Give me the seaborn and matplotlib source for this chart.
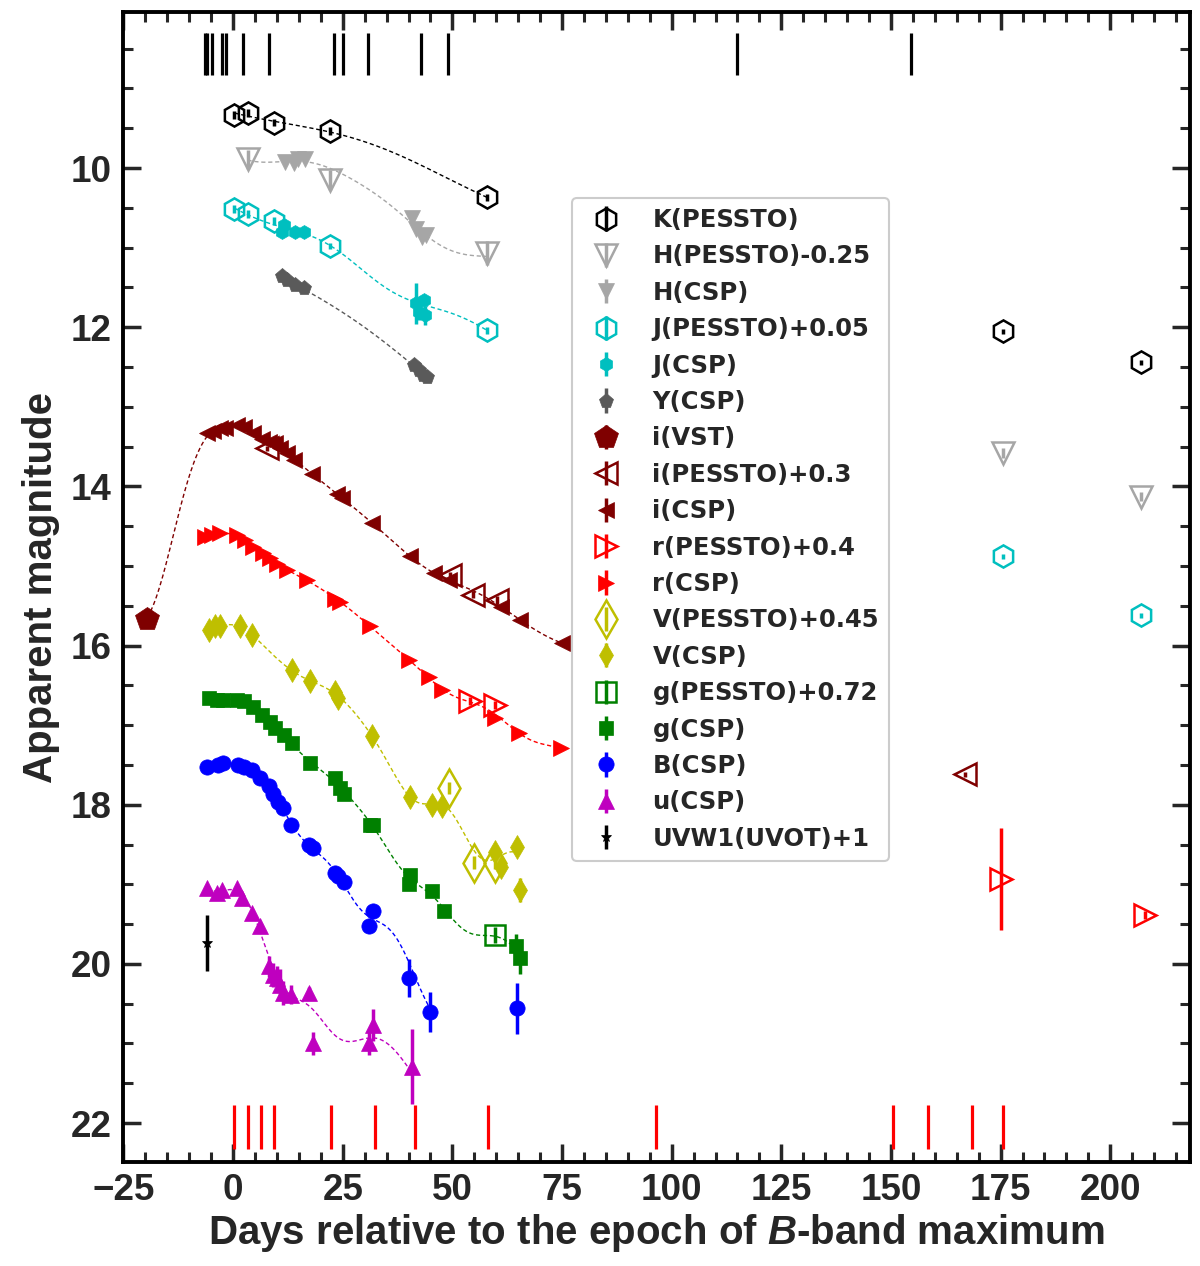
import numpy as np
import pandas as pd
import matplotlib
matplotlib.use("Agg")
import matplotlib.pyplot as plt
import seaborn as sns
from matplotlib.ticker import MultipleLocator

# ---------------- data ----------------
K_pes_t = [0.3, 3.3, 9.3, 22.2, 57.9, 175.5, 207.0]
K_pes_m = [9.33, 9.31, 9.43, 9.54, 10.37, 12.05, 12.44]
K_pes_e = [0.05, 0.05, 0.04, 0.05, 0.04, 0.03, 0.03]

H_pes_t = [3.3, 22.2, 57.9, 175.5, 207.0]
H_pes_m = [9.89, 10.15, 11.07, 13.58, 14.13]
H_pes_e = [0.12, 0.12, 0.15, 0.06, 0.06]
H_csp_t = [11.9, 13.8, 14.9, 16.4, 40.9, 41.8, 43.0, 44.1]
H_csp_m = [9.93, 9.94, 9.89, 9.89, 10.63, 10.76, 10.87, 10.84]
H_csp_e = [0.03, 0.03, 0.03, 0.03, 0.05, 0.05, 0.05, 0.05]

J_pes_t = [0.3, 3.3, 9.3, 22.2, 57.9, 175.5, 207.0]
J_pes_m = [10.51, 10.58, 10.67, 10.98, 12.04, 14.88, 15.62]
J_pes_e = [0.05, 0.05, 0.05, 0.04, 0.04, 0.03, 0.03]
J_csp_t = [11.1, 11.5, 14.2, 16.1, 41.6, 42.3, 43.6, 43.8]
J_csp_m = [10.80, 10.72, 10.80, 10.80, 11.70, 11.81, 11.66, 11.85]
J_csp_e = [0.03, 0.03, 0.03, 0.03, 0.26, 0.10, 0.05, 0.12]

Y_csp_t = [11.1, 12.3, 14.2, 16.1, 41.2, 42.3, 43.4, 44.2]
Y_csp_m = [11.36, 11.41, 11.47, 11.51, 12.47, 12.54, 12.60, 12.62]
Y_csp_e = [0.03, 0.03, 0.03, 0.03, 0.04, 0.04, 0.04, 0.04]

i_vst_t = [-19.6]
i_vst_m = [15.67]
i_vst_e = [0.03]
i_pes_t = [7.7, 49.4, 54.7, 60.1, 167.0]
i_pes_m = [13.52, 15.11, 15.36, 15.43, 17.62]
i_pes_e = [0.03, 0.03, 0.04, 0.05, 0.03]
i_csp_t = [-6.0, -4.5, -3.0, -1.8, 0.8, 2.4, 4.6, 6.5, 8.1, 9.6, 10.7, 12.3, 13.8,
           18.0, 23.7, 24.8, 31.7, 40.4, 45.7, 49.2, 61.0, 65.5, 75.0]
i_csp_m = [13.33, 13.31, 13.27, 13.27, 13.23, 13.25, 13.33, 13.40, 13.44, 13.46, 13.52,
           13.58, 13.67, 13.84, 14.09, 14.15, 14.46, 14.88, 15.09, 15.18, 15.51, 15.68, 15.97]

r_pes_t = [54.1, 59.8, 175.2, 208.0]
r_pes_m = [16.70, 16.75, 18.93, 19.39]
r_pes_e = [0.05, 0.05, 0.64, 0.05]
r_csp_t = [-6.4, -4.9, -3.0, 0.8, 2.7, 4.6, 6.9, 8.4, 10.0, 12.3, 16.8, 23.3, 24.4,
           31.3, 40.0, 44.6, 47.6, 59.8, 65.1, 74.7]
r_csp_m = [14.63, 14.61, 14.59, 14.61, 14.67, 14.76, 14.84, 14.90, 14.97, 15.05, 15.18,
           15.41, 15.45, 15.76, 16.18, 16.39, 16.56, 16.91, 17.10, 17.29]

V_pes_t = [49.2, 54.9, 59.8]
V_pes_m = [17.79, 18.73, 18.73]
V_pes_e = [0.08, 0.08, 0.08]
V_csp_t = [-5.6, -4.1, -3.0, 1.6, 4.3, 13.4, 17.6, 23.3, 24.0, 31.7, 40.4, 45.4, 47.6,
           59.8, 61.0, 64.8, 65.5]
V_csp_m = [15.80, 15.76, 15.76, 15.76, 15.87, 16.31, 16.45, 16.58, 16.66, 17.14, 17.90,
           18.00, 18.02, 18.59, 18.78, 18.53, 19.07]
V_csp_e = [0.02] * 13 + [0.05, 0.1, 0.05, 0.15]

g_pes_t = [59.8]
g_pes_m = [19.64]
g_pes_e = [0.1]
g_csp_t = [-5.6, -3.7, -2.2, 0.8, 2.4, 4.6, 6.5, 8.4, 9.6, 11.5, 13.4, 17.6, 23.3,
           24.4, 25.2, 31.3, 32.0, 40.0, 40.4, 45.4, 48.0, 64.4, 65.5]
g_csp_m = [16.66, 16.68, 16.68, 16.68, 16.70, 16.77, 16.87, 16.96, 17.04, 17.12, 17.23,
           17.48, 17.67, 17.79, 17.86, 18.25, 18.25, 18.99, 18.88, 19.09, 19.34, 19.78, 19.93]
g_csp_e = [0.02] * 17 + [0.05, 0.05, 0.05, 0.05, 0.15, 0.2]

B_csp_t = [-5.9, -3.4, -2.2, 1.2, 2.4, 4.3, 6.2, 8.1, 9.2, 10.3, 11.3, 13.2, 17.2,
           18.2, 23.3, 24.0, 25.2, 31.1, 32.0, 40.0, 45.0, 64.8]
B_csp_m = [17.52, 17.50, 17.48, 17.50, 17.52, 17.56, 17.67, 17.77, 17.86, 17.96, 18.04,
           18.25, 18.51, 18.55, 18.86, 18.90, 18.97, 19.52, 19.34, 20.18, 20.60, 20.56]
B_csp_e = [0.02] * 19 + [0.24, 0.25, 0.32]

u_csp_t = [-5.9, -3.7, -2.6, 0.8, 2.0, 4.3, 6.2, 8.1, 9.2, 10.0, 10.7, 11.3, 13.2,
           17.2, 18.2, 31.1, 32.0, 40.9]
u_csp_m = [19.05, 19.11, 19.07, 19.05, 19.17, 19.36, 19.53, 20.03, 20.14, 20.18, 20.26,
           20.37, 20.39, 20.37, 21.00, 21.00, 20.77, 21.29]
u_csp_e = [0.03, 0.03, 0.03, 0.03, 0.04, 0.05, 0.05, 0.13, 0.15, 0.15, 0.2, 0.15, 0.12,
           0.08, 0.15, 0.15, 0.2, 0.47]

uvw_t = [-5.9]
uvw_m = [19.74]
uvw_e = [0.35]

nir_epochs = [-6.4, -5.9, -4.7, -2.6, -1.7, 2.2, 8.3, 23.1, 25.0, 30.8, 42.8, 48.9, 115.0, 154.5]
spec_epochs = [0.3, 3.4, 6.3, 9.3, 22.3, 32.3, 41.4, 58.2, 96.5, 150.5, 158.5, 168.5, 175.5]

# ---------------- style ----------------
sns.set_theme(style="ticks")
plt.rcParams["font.family"] = ["Liberation Sans", "DejaVu Sans"]
plt.rcParams["font.weight"] = "bold"
plt.rcParams["mathtext.fontset"] = "custom"
plt.rcParams["mathtext.it"] = "Liberation Sans:italic:bold"
plt.rcParams["mathtext.rm"] = "Liberation Sans:bold"

C_K = "black"
C_H = "#a6a6a6"
C_J = "#00bfbf"
C_Y = "#5a5a5a"
C_i = "#7f0000"
C_r = "#ff0000"
C_V = "#bfbf00"
C_g = "#008000"
C_B = "#0000ff"
C_u = "#bf00bf"

fig = plt.figure(figsize=(12, 12.66), dpi=100)
ax = fig.add_axes([0.1025, 0.0821, 0.8892, 0.9084])


def gp_curve(ts, ms, es, ls, tmax, amp=0.5, jitter=0.03, n=400):
    t = np.asarray(ts, float)
    m = np.asarray(ms, float)
    e = np.asarray(es, float)
    sel = t < tmax
    t, m, e = t[sel], m[sel], e[sel]
    p = np.polyfit(t, m, 1)
    K = amp ** 2 * np.exp(-0.5 * (t[:, None] - t[None, :]) ** 2 / ls ** 2)
    K += np.diag(e ** 2 + jitter ** 2)
    alpha = np.linalg.solve(K, m - np.polyval(p, t))
    tg = np.linspace(t.min(), t.max(), n)
    Ks = amp ** 2 * np.exp(-0.5 * (tg[:, None] - t[None, :]) ** 2 / ls ** 2)
    return pd.DataFrame({"t": tg, "m": np.polyval(p, tg) + Ks @ alpha})


def curve(color, ls, tmax, *series):
    ts, ms, es = [], [], []
    for t, m, e in series:
        ts += list(t)
        ms += list(m)
        es += list(e) if np.ndim(e) else [e] * len(t)
    df = gp_curve(ts, ms, es, ls, tmax)
    sns.lineplot(data=df, x="t", y="m", color=color, lw=1.0, ls=(0, (3, 2)),
                 sort=False, estimator=None, ax=ax, legend=False, zorder=2)


curve(C_K, 22, 100, (K_pes_t, K_pes_m, K_pes_e))
curve(C_H, 12, 100, (H_pes_t, H_pes_m, H_pes_e), (H_csp_t, H_csp_m, H_csp_e))
curve(C_J, 12, 100, (J_pes_t, J_pes_m, J_pes_e), (J_csp_t, J_csp_m, J_csp_e))
curve(C_Y, 20, 100, (Y_csp_t, Y_csp_m, Y_csp_e))
curve(C_i, 9, 100, (i_vst_t, i_vst_m, i_vst_e), (i_csp_t, i_csp_m, 0.02))
curve(C_r, 8, 100, (r_csp_t, r_csp_m, 0.02), (r_pes_t, r_pes_m, r_pes_e))
curve(C_V, 7, 100, (V_csp_t, V_csp_m, V_csp_e), (V_pes_t, V_pes_m, V_pes_e))
curve(C_g, 7, 100, (g_csp_t, g_csp_m, g_csp_e), (g_pes_t, g_pes_m, g_pes_e))
curve(C_B, 7, 50, (B_csp_t, B_csp_m, B_csp_e))
curve(C_u, 6, 100, (u_csp_t, u_csp_m, u_csp_e))

handles = []


def pts(t, m, e, marker, color, ms, label, open_=False, mew=1.8, elw=2.5):
    kw = dict(fmt=marker, color=color, ms=ms, ecolor=color, elinewidth=elw,
              capsize=0, label=label, zorder=3)
    if open_:
        kw.update(mfc="none", mec=color, mew=mew)
    else:
        kw.update(mfc=color, mec=color, mew=0.5)
    h = ax.errorbar(t, m, yerr=e, **kw)
    handles.append(h)


pts(K_pes_t, K_pes_m, K_pes_e, "h", C_K, 16, "K(PESSTO)", open_=True)
pts(H_pes_t, H_pes_m, H_pes_e, "v", C_H, 16, "H(PESSTO)-0.25", open_=True)
pts(H_csp_t, H_csp_m, H_csp_e, "v", C_H, 11, "H(CSP)")
pts(J_pes_t, J_pes_m, J_pes_e, "h", C_J, 16, "J(PESSTO)+0.05", open_=True)
pts(J_csp_t, J_csp_m, J_csp_e, "h", C_J, 10, "J(CSP)")
pts(Y_csp_t, Y_csp_m, Y_csp_e, "p", C_Y, 11, "Y(CSP)")
pts(i_vst_t, i_vst_m, i_vst_e, "p", C_i, 18, "i(VST)")
pts(i_pes_t, i_pes_m, i_pes_e, "<", C_i, 16, "i(PESSTO)+0.3", open_=True)
pts(i_csp_t, i_csp_m, [0.02] * len(i_csp_t), "<", C_i, 11, "i(CSP)")
pts(r_pes_t, r_pes_m, r_pes_e, ">", C_r, 16, "r(PESSTO)+0.4", open_=True)
pts(r_csp_t, r_csp_m, [0.02] * len(r_csp_t), ">", C_r, 11, "r(CSP)")
pts(V_pes_t, V_pes_m, V_pes_e, "d", C_V, 19, "V(PESSTO)+0.45", open_=True)
pts(V_csp_t, V_csp_m, V_csp_e, "d", C_V, 12, "V(CSP)")
pts(g_pes_t, g_pes_m, g_pes_e, "s", C_g, 15, "g(PESSTO)+0.72", open_=True)
pts(g_csp_t, g_csp_m, g_csp_e, "s", C_g, 10, "g(CSP)")
pts(B_csp_t, B_csp_m, B_csp_e, "o", C_B, 11, "B(CSP)")
pts(u_csp_t, u_csp_m, u_csp_e, "^", C_u, 11, "u(CSP)")
pts(uvw_t, uvw_m, uvw_e, "*", "black", 8, "UVW1(UVOT)+1")

ax.vlines(nir_epochs, 8.30, 8.83, color="black", lw=2.3, zorder=2)
ax.vlines(spec_epochs, 21.77, 22.33, color="red", lw=2.3, zorder=2)

ax.set_xlim(-25.1, 218.2)
ax.set_ylim(22.49, 8.04)
ax.xaxis.set_major_locator(MultipleLocator(25))
ax.xaxis.set_minor_locator(MultipleLocator(5))
ax.yaxis.set_major_locator(MultipleLocator(2))
ax.yaxis.set_minor_locator(MultipleLocator(0.5))
ax.tick_params(which="both", direction="in", top=True, right=True)
ax.tick_params(which="major", length=13, width=2.5, labelsize=26.5, pad=8)
ax.tick_params(which="minor", length=7, width=2.2)
for lab in ax.get_xticklabels() + ax.get_yticklabels():
    lab.set_fontweight("bold")
for sp in ax.spines.values():
    sp.set_linewidth(2.8)
    sp.set_color("black")

ax.set_xlabel(r"Days relative to the epoch of $B$-band maximum", fontsize=29,
              fontweight="bold", labelpad=3)
ax.set_ylabel("Apparent magnitude", fontsize=29, fontweight="bold", labelpad=8)

leg = ax.legend(handles=handles, loc="upper left", bbox_to_anchor=(0.421, 0.838),
                borderaxespad=0, numpoints=1, handlelength=2.0, handletextpad=0.9,
                labelspacing=0.51, borderpad=0.4, frameon=True, fancybox=True,
                framealpha=1, edgecolor="#cccccc",
                prop={"family": "DejaVu Sans", "weight": "bold", "size": 17.5})
leg.get_frame().set_linewidth(1.5)

fig.savefig("out.png", dpi=100)
